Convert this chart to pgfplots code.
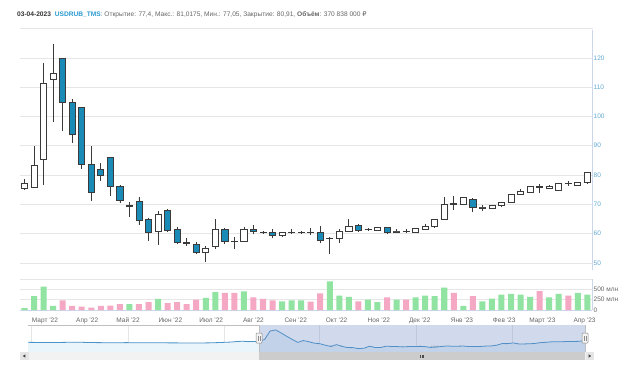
\documentclass[border=0pt]{standalone}
\usepackage{fontspec}
\setmainfont{Liberation Sans}
\newfontfamily\dejavu{DejaVu Sans}
\usepackage{pgfplots}
\pgfplotsset{compat=1.18}
\usepackage{pgfplotstable}
\usepgfplotslibrary{statistics}

\definecolor{gridc}{HTML}{E6E6E6}
\definecolor{axisln}{HTML}{CCD6EB}
\definecolor{pricelab}{HTML}{5FA8D3}
\definecolor{lab}{HTML}{666666}
\definecolor{cline}{HTML}{3A3A3A}
\definecolor{cblue}{HTML}{1A8AB6}
\definecolor{vgreen}{HTML}{90E3A1}
\definecolor{vpink}{HTML}{F5A8C3}
\definecolor{navline}{HTML}{4A94C8}
\definecolor{navfill}{HTML}{EAF4FB}
\definecolor{maskc}{HTML}{6685C2}
\definecolor{tickerblue}{HTML}{2A9AD0}
\definecolor{hdr}{HTML}{666666}

\pgfplotstableread{
x low blo bhi high d
0 74.9 75.6 77.3 78.7 1
1 75.7 75.9 83.4 89.9 1
2 76.6 85.2 111.3 118.4 1
3 98.2 112.6 114.7 124.7 1
4 95.2 104.8 119.9 120.0 0
5 90.9 93.9 104.8 105.9 0
6 82.1 83.8 103.0 103.1 0
7 71.2 74.0 83.8 89.9 0
8 78.0 80.0 82.0 84.0 0
9 72.9 76.2 85.9 86.0 0
10 70.4 71.5 76.0 76.5 0
11 65.8 69.3 69.7 70.9 1
12 63.0 64.7 70.9 72.4 0
13 57.6 60.5 65.0 65.5 0
14 56.1 60.9 66.7 67.8 1
15 60.5 61.0 67.8 68.4 0
16 56.5 57.1 61.5 62.2 0
17 55.8 56.8 57.1 58.4 0
18 53.0 53.6 56.5 57.0 0
19 50.4 53.6 55.0 55.8 1
20 54.7 55.8 61.5 64.9 1
21 56.4 57.3 61.3 62.0 0
22 54.7 57.2 57.5 58.8 0
23 57.3 57.3 61.6 62.4 1
24 59.8 60.7 61.5 63.0 0
25 60.0 60.3 60.6 60.8 0
26 58.4 59.3 60.4 61.5 0
27 59.2 59.3 60.3 60.5 1
28 59.8 60.3 60.5 61.5 1
29 59.9 60.3 60.5 60.8 1
30 59.5 60.3 60.6 61.8 0
31 56.7 57.6 60.4 62.7 0
32 53.1 58.3 58.5 58.8 1
33 56.7 58.4 60.7 61.6 1
34 60.9 60.9 62.4 64.9 1
35 60.7 61.2 62.7 63.3 0
36 61.2 61.4 61.6 62.0 1
37 61.0 61.2 62.1 62.3 1
38 59.8 60.4 62.0 62.2 0
39 60.4 60.6 60.8 61.5 1
40 60.5 60.7 60.9 61.6 0
41 60.4 60.5 61.9 62.1 1
42 61.3 61.5 62.4 63.3 1
43 62.2 62.4 64.9 65.1 1
44 64.7 64.9 70.1 72.6 1
45 68.1 70.0 70.5 72.9 0
46 69.8 70.0 72.3 72.5 1
47 67.3 69.0 71.8 72.0 0
48 67.9 68.8 69.0 69.8 1
49 68.5 68.7 69.5 69.7 1
50 69.3 69.5 70.7 70.9 1
51 70.5 70.7 73.4 73.6 1
52 73.2 73.4 74.3 75.2 1
53 73.9 74.1 76.0 76.2 1
54 73.8 75.9 76.1 76.9 0
55 75.3 75.5 76.3 76.5 1
56 74.7 74.9 77.2 77.4 1
57 76.3 77.1 77.3 78.0 0
58 76.4 76.6 77.5 77.7 1
59 77.05 77.4 80.91 81.0175 1
}\candles

\pgfplotstableread{
x up dn
0 45 nan
1 333 nan
2 567 nan
3 100 nan
4 nan 233
5 nan 100
6 nan 83
7 nan 58
8 nan 100
9 nan 108
10 nan 142
11 142 nan
12 nan 142
13 nan 192
14 267 nan
15 nan 167
16 nan 192
17 nan 142
18 nan 250
19 292 nan
20 433 nan
21 nan 417
22 nan 417
23 450 nan
24 nan 308
25 nan 267
26 nan 233
27 208 nan
28 233 nan
29 233 nan
30 nan 200
31 nan 400
32 692 nan
33 350 nan
34 317 nan
35 nan 208
36 250 nan
37 192 nan
38 nan 308
39 250 nan
40 nan 250
41 308 nan
42 350 nan
43 333 nan
44 542 nan
45 nan 417
46 100 nan
47 nan 333
48 208 nan
49 275 nan
50 375 nan
51 392 nan
52 375 nan
53 317 nan
54 nan 458
55 308 nan
56 392 nan
57 nan 350
58 417 nan
59 371 nan
}\vol

\pgfplotstableread{
w v
-41.8 74.2
-39 73.6
-36 73.9
-33 74.6
-30 73.4
-27 72.9
-24 73.2
-21 72.8
-18 72.6
-15 72.4
-12 71.8
-9 72.5
-7 73.6
-5 75.2
-4 76.8
-3 77.8
-2 76.5
-1 77.0
0 77.3
1 83.4
2 111.3
3 114.7
4 104.8
5 93.9
6 83.8
7 74.0
8 80.0
9 76.2
10 71.5
11 69.7
12 64.7
13 60.5
14 66.7
15 61.0
16 57.1
17 56.8
18 53.6
19 55.0
20 61.5
21 57.3
22 57.2
23 61.6
24 60.7
25 60.3
26 59.3
27 60.3
28 60.5
29 60.5
30 60.3
31 57.6
32 58.5
33 60.7
34 62.4
35 61.2
36 61.6
37 62.1
38 60.4
39 60.8
40 60.7
41 61.9
42 62.4
43 64.9
44 70.1
45 70.0
46 72.3
47 69.0
48 69.0
49 69.5
50 70.7
51 73.4
52 74.3
53 76.0
54 75.9
55 76.3
56 77.2
57 77.1
58 77.5
59 80.9
}\nav

\pgfplotsset{
  candlebase/.style={solid, line width=0.75bp, draw=cline, mark=none,
    boxplot/every whisker/.style={draw=cline},
    boxplot/every median/.style={draw=cline}},
  upc/.style={candlebase, fill=white, boxplot/every box/.style={draw=cline, fill=white}},
  dnc/.style={candlebase, fill=cblue, boxplot/every box/.style={draw=cline, fill=cblue}},
  smallf/.style={font=\fontsize{6.5bp}{7.5bp}\selectfont},
}

\newcommand\candle[1]{%
  \pgfplotstablegetelem{#1}{d}\of\candles \let\cd\pgfplotsretval
  \pgfplotstablegetelem{#1}{low}\of\candles \let\cl\pgfplotsretval
  \pgfplotstablegetelem{#1}{blo}\of\candles \let\cbl\pgfplotsretval
  \pgfplotstablegetelem{#1}{bhi}\of\candles \let\cbh\pgfplotsretval
  \pgfplotstablegetelem{#1}{high}\of\candles \let\ch\pgfplotsretval
  \ifnum\cd=1\relax\def\cst{upc}\else\def\cst{dnc}\fi
  \edef\tmp{\noexpand\addplot[\cst,boxplot prepared={draw direction=y,draw position=#1,lower whisker=\cl,lower quartile=\cbl,median=\cbl,upper quartile=\cbh,upper whisker=\ch}] coordinates {};}%
  \tmp}

\begin{document}
\begin{tikzpicture}[x=1bp,y=1bp]
\useasboundingbox (0,0) rectangle (623,366);
\fill[white] (0,0) rectangle (623,366);

% header
\node[anchor=base west, inner sep=0pt, font=\fontsize{6.6bp}{8bp}\selectfont] at (17,350)
  {\textcolor{black!80}{\textbf{03-04-2023}}\hspace{0.6em}\textcolor{tickerblue}{\textbf{USDRUB\_TMS}}\textcolor{hdr}{: Открытие: 77,4, Макс.: 81,0175, Мин.: 77,05, Закрытие: 80,91, \textbf{Объём}: 370 838 000 {\dejavu ₽}}};
\draw[gridc, line width=0.6bp] (20,338) -- (593,338);

% price panel
\begin{axis}[at={(20bp,96bp)}, anchor=south west, scale only axis,
  width=572bp, height=240bp,
  xmin=-0.472, xmax=59.49, ymin=47.6, ymax=129.5,
  axis x line=none, axis y line*=right,
  y axis line style={draw=axisln, line width=0.6bp, -},
  xtick=\empty,
  ytick={50,60,...,120},
  ymajorgrids, grid style={draw=gridc, line width=0.6bp},
  major tick length=0pt,
  yticklabel style={smallf, text=pricelab, anchor=west, xshift=1.5bp, inner sep=0pt,
    /pgf/number format/assume math mode=true},
  boxplot/draw direction=y,
  boxplot/box extend=0.64, boxplot/whisker extend=0]
\pgfplotsinvokeforeach{0,...,59}{\candle{#1}}
\end{axis}

% volume panel
\begin{axis}[at={(20bp,56bp)}, anchor=south west, scale only axis,
  width=572bp, height=31bp,
  xmin=-0.472, xmax=59.49, ymin=0, ymax=750,
  ybar, bar width=0.63,
  axis x line*=bottom, axis y line*=right,
  x axis line style={draw=axisln, line width=0.6bp, -},
  y axis line style={draw=axisln, line width=0.6bp, -},
  ytick={0,250,500,750}, yticklabels={0,250 млн,500 млн,{}},
  ymajorgrids, grid style={draw=gridc, line width=0.6bp},
  major tick length=0pt,
  yticklabel style={smallf, text=lab, anchor=west, xshift=1.5bp, inner sep=0pt},
  xtick={2.143,6.571,10.857,15.286,19.571,24,28.429,32.714,37.143,41.429,45.857,50.286,54.286,58.714},
  xticklabels={Март '22,Апр '22,Май '22,Июн '22,Июл '22,Авг '22,Сен '22,Окт '22,Ноя '22,Дек '22,Янв '23,Фев '23,Март '23,Апр '23},
  xticklabel style={smallf, text=lab, anchor=north, inner sep=0pt, text height=5bp, text depth=1.5bp, yshift=-7bp}]
\addplot[fill=vgreen, draw=none, bar shift=0pt] table[x=x, y=up] {\vol};
\addplot[fill=vpink, draw=none, bar shift=0pt] table[x=x, y=dn] {\vol};
\end{axis}

% navigator
\begin{axis}[at={(28bp,14bp)}, anchor=south west, scale only axis,
  width=557bp, height=27bp,
  xmin=-41.83, xmax=59, ymin=42.6, ymax=130.8,
  axis line style={draw=none},
  ytick=\empty,
  xtick={-41.29,-23.71,-6.29,10.857,28.43,45.857},
  xticklabels={Май '21,Сен '21,Янв '22,Май '22,Сен '22,Янв '23},
  xmajorgrids, grid style={draw=gridc, line width=0.6bp},
  major tick length=0pt,
  xticklabel style={font=\fontsize{6.2bp}{7bp}\selectfont, text=black!45, anchor=base west, inner sep=0pt, xshift=1.5bp, yshift=1.5bp}]
\addplot[draw=none, fill=navfill] table[x=w, y=v] {\nav} \closedcycle;
\addplot[navline, line width=0.8bp, mark=none] table[x=w, y=v] {\nav};
\end{axis}

% navigator mask and outline
\fill[maskc, fill opacity=0.3] (259,14) rectangle (585,41);
\draw[black!25, line width=0.6bp] (28,41) -- (259,41) -- (259,14);
\draw[black!25, line width=0.6bp] (585,14) -- (585,41);
% handles
\foreach \hx in {259,585}{
  \draw[fill=black!5, draw=black!45, line width=0.5bp, rounded corners=0.8bp] (\hx-3,23) rectangle (\hx+3,33);
  \draw[black!45, line width=0.4bp] (\hx-1,25.5) -- (\hx-1,30.5) (\hx+1,25.5) -- (\hx+1,30.5);
}
% scrollbar
\fill[black!5] (20,6) rectangle (594,14);
\fill[black!20] (259,6) rectangle (585,14);
\draw[black!70, line width=0.4bp] (420.5,8.5) -- (420.5,11.5) (422,8.5) -- (422,11.5) (423.5,8.5) -- (423.5,11.5);
\fill[black!10] (20,6) rectangle (28.5,14);
\fill[black!10] (585.5,6) rectangle (594,14);
\fill[black!75] (22.8,10) -- (25.3,11.6) -- (25.3,8.4) -- cycle;
\fill[black!75] (591.2,10) -- (588.7,11.6) -- (588.7,8.4) -- cycle;
\end{tikzpicture}
\end{document}
